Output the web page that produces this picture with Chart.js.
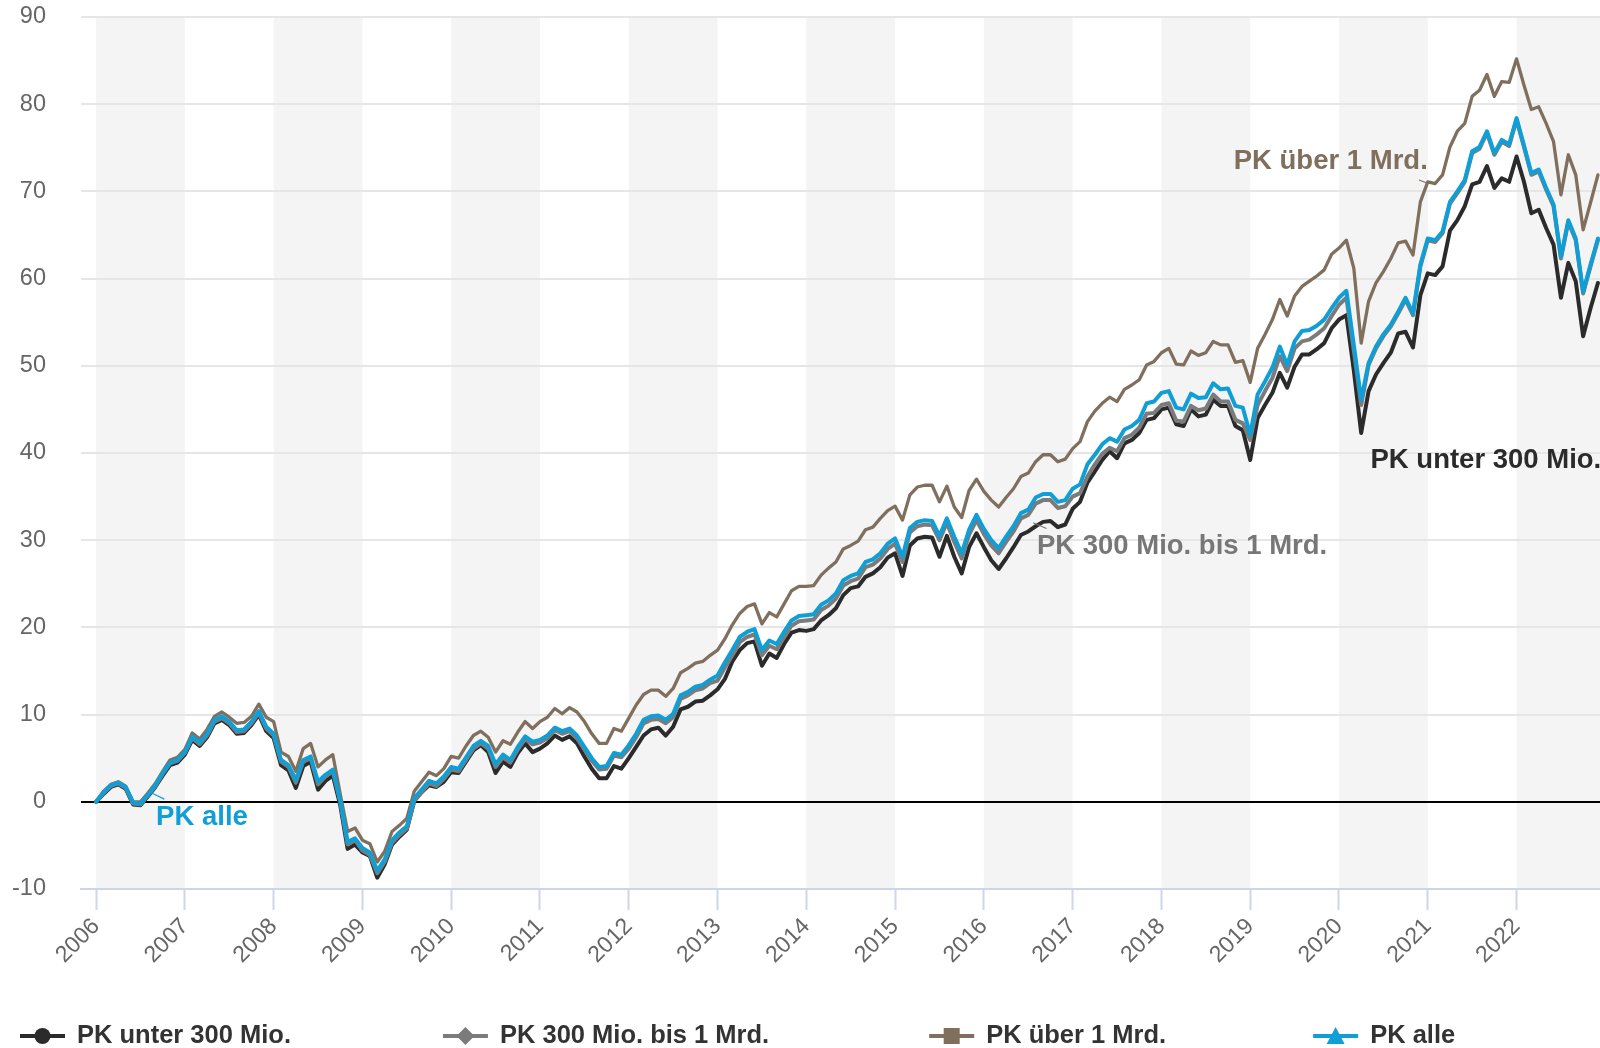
<!DOCTYPE html>
<html>
<head>
<meta charset="utf-8">
<script src="https://cdn.jsdelivr.net/npm/chart.js@4.4.1/dist/chart.umd.min.js"></script>
<style>
  html, body { margin: 0; padding: 0; background: #fff; }
  #wrap { width: 1600px; height: 1048px; position: relative; }
</style>
</head>
<body>
<div id="wrap"><canvas id="chart"></canvas></div>
<script>
// Kumulierte Performance in %, Monatswerte (Index 0 = Start 2006)
const startYear = 2006;

const unter300 = [
  0, 0.9, 1.7, 2.0, 1.5, -0.3, -0.4, 0.6, 1.7, 3.0, 4.2, 4.5,
  5.4, 7.1, 6.4, 7.4, 9.0, 9.4, 8.8, 7.8, 7.9, 8.8, 10.0, 8.1,
  7.3, 4.2, 3.6, 1.6, 4.1, 4.6, 1.4, 2.4, 3.0, -0.4, -5.4, -4.9,
  -5.8, -6.2, -8.7, -7.2, -4.9, -4.0, -3.2, 0.1, 1.1, 1.9, 1.7, 2.3,
  3.4, 3.3, 4.6, 5.9, 6.5, 5.7, 3.3, 4.6, 4.0, 5.6, 6.7, 5.7,
  6.1, 6.7, 7.6, 7.1, 7.5, 6.7, 5.2, 3.8, 2.7, 2.7, 4.1, 3.8,
  5.0, 6.3, 7.6, 8.3, 8.5, 7.6, 8.6, 10.6, 10.9, 11.5, 11.6, 12.2,
  12.9, 14.1, 16.1, 17.4, 18.2, 18.4, 15.6, 17.0, 16.5, 18.1, 19.4, 19.7,
  19.6, 19.8, 20.8, 21.4, 22.2, 23.7, 24.5, 24.7, 25.8, 26.2, 26.9, 28.0,
  28.5, 25.9, 29.4, 30.2, 30.4, 30.3, 28.1, 30.5, 28.1, 26.2, 29.2, 30.8,
  29.2, 27.7, 26.7, 27.9, 29.2, 30.6, 31.0, 31.6, 32.1, 32.2, 31.5, 31.8,
  33.6, 34.4, 36.6, 37.9, 39.2, 40.2, 39.4, 41.1, 41.5, 42.3, 43.8, 44.0,
  45.0, 45.2, 43.3, 43.1, 45.0, 44.2, 44.4, 46.1, 45.4, 45.4, 43.1, 42.6,
  39.2, 44.0, 45.5, 46.9, 49.2, 47.5, 49.9, 51.3, 51.3, 51.9, 52.6, 54.3,
  55.3, 55.8, 49.5, 42.3, 47.1, 49.0, 50.3, 51.5, 53.7, 53.9, 52.1, 58.1,
  60.6, 60.4, 61.4, 65.5, 66.7, 68.3, 70.8, 71.1, 72.9, 70.4, 71.5, 71.1,
  74.0, 71.1, 67.5, 67.9, 65.8, 63.9, 57.8, 61.8, 59.7, 53.4, 56.6, 59.5
];

const mio300bis1Mrd = [
  0, 1.0, 1.8, 2.1, 1.6, -0.2, -0.3, 0.7, 1.8, 3.2, 4.4, 4.7,
  5.6, 7.3, 6.6, 7.6, 9.2, 9.6, 9.0, 8.0, 8.1, 9.0, 10.2, 8.4,
  7.6, 4.6, 4.0, 2.2, 4.6, 5.0, 2.0, 2.9, 3.5, 0.0, -4.9, -4.4,
  -5.6, -6.1, -8.2, -6.9, -4.7, -3.8, -3.1, 0.1, 1.1, 2.1, 1.8, 2.6,
  3.7, 3.5, 4.8, 6.1, 6.7, 6.1, 4.0, 5.1, 4.5, 6.0, 7.2, 6.6,
  6.8, 7.3, 8.2, 7.8, 8.1, 7.3, 6.0, 4.7, 3.7, 3.8, 5.3, 5.1,
  6.1, 7.4, 9.0, 9.4, 9.5, 9.0, 9.7, 11.8, 12.2, 12.8, 13.0, 13.6,
  13.9, 15.4, 16.8, 18.3, 18.9, 19.2, 16.8, 17.9, 17.5, 18.9, 20.2, 20.7,
  20.8, 20.9, 22.0, 22.5, 23.3, 24.8, 25.3, 25.6, 26.9, 27.2, 27.9, 29.0,
  29.6, 27.5, 30.9, 31.6, 31.8, 31.7, 30.0, 32.0, 29.8, 27.9, 30.6, 32.3,
  30.7, 29.4, 28.5, 29.8, 31.0, 32.5, 32.9, 34.2, 34.6, 34.6, 33.7, 33.9,
  35.0, 35.4, 37.3, 38.7, 39.9, 40.6, 40.2, 41.7, 42.1, 42.9, 44.5, 44.6,
  45.5, 45.7, 43.7, 43.6, 45.4, 44.9, 45.1, 46.7, 45.9, 45.9, 43.8, 43.4,
  41.5, 45.5, 47.1, 48.6, 51.1, 49.4, 52.0, 52.8, 53.0, 53.6, 54.3, 55.7,
  57.0, 57.8, 51.8, 45.5, 50.1, 52.0, 53.4, 54.5, 56.0, 57.6, 55.8, 61.4,
  64.4, 64.2, 65.2, 68.6, 69.8, 71.1, 74.4, 74.9, 76.7, 74.2, 75.7, 75.2,
  78.2, 75.1, 71.9, 72.3, 70.2, 68.3, 62.3, 66.5, 64.4, 58.3, 61.4, 64.4
];

const ueber1Mrd = [
  0, 1.2, 2.0, 2.3, 1.8, 0.0, 0.0, 1.0, 2.1, 3.5, 4.8, 5.1,
  6.0, 7.9, 7.2, 8.3, 9.8, 10.3, 9.7, 9.0, 9.1, 9.8, 11.2, 9.7,
  9.2, 5.7, 5.2, 3.5, 6.1, 6.7, 4.0, 4.8, 5.4, 0.9, -3.4, -3.0,
  -4.4, -4.8, -6.9, -5.7, -3.4, -2.7, -1.9, 1.2, 2.3, 3.4, 3.0, 3.8,
  5.2, 5.0, 6.4, 7.6, 8.1, 7.4, 5.7, 7.0, 6.6, 8.0, 9.2, 8.4,
  9.2, 9.7, 10.7, 10.1, 10.8, 10.3, 9.2, 7.8, 6.7, 6.7, 8.4, 8.1,
  9.6, 11.1, 12.3, 12.8, 12.8, 12.1, 13.0, 14.8, 15.3, 15.9, 16.1, 16.8,
  17.4, 18.7, 20.3, 21.6, 22.4, 22.7, 20.4, 21.7, 21.2, 22.7, 24.2, 24.7,
  24.7, 24.8, 26.0, 26.8, 27.5, 29.0, 29.4, 29.9, 31.2, 31.5, 32.5, 33.4,
  33.9, 32.3, 35.2, 36.1, 36.3, 36.3, 34.4, 36.2, 33.8, 32.6, 35.7, 37.0,
  35.6, 34.6, 33.8, 34.9, 35.9, 37.3, 37.7, 39.0, 39.8, 39.8, 39.0, 39.3,
  40.5, 41.3, 43.6, 44.8, 45.7, 46.4, 45.9, 47.3, 47.8, 48.4, 50.1, 50.5,
  51.5, 52.0, 50.2, 50.1, 51.7, 51.2, 51.5, 52.8, 52.4, 52.4, 50.4, 50.6,
  48.1, 52.0, 53.6, 55.3, 57.6, 55.7, 58.0, 59.1, 59.7, 60.3, 61.0, 62.8,
  63.5, 64.4, 61.2, 52.6, 57.4, 59.5, 60.8, 62.3, 64.1, 64.3, 62.7, 68.8,
  71.1, 70.9, 71.9, 75.1, 76.9, 77.8, 80.9, 81.6, 83.4, 80.9, 82.6, 82.5,
  85.2, 82.2, 79.4, 79.7, 77.8, 75.7, 69.6, 74.2, 71.9, 65.6, 68.7, 71.9
];

const alle = [
  0, 1.1, 1.9, 2.2, 1.7, -0.1, -0.2, 0.8, 1.9, 3.3, 4.5, 4.8,
  5.7, 7.5, 6.8, 7.8, 9.4, 9.8, 9.2, 8.2, 8.3, 9.2, 10.4, 8.6,
  7.8, 4.8, 4.2, 2.5, 4.8, 5.2, 2.3, 3.1, 3.7, 0.2, -4.6, -4.2,
  -5.3, -5.8, -7.9, -6.6, -4.4, -3.5, -2.8, 0.4, 1.4, 2.4, 2.1, 2.9,
  4.0, 3.8, 5.1, 6.4, 7.0, 6.4, 4.3, 5.4, 4.8, 6.3, 7.5, 6.9,
  7.1, 7.6, 8.5, 8.1, 8.4, 7.6, 6.3, 5.0, 4.0, 4.1, 5.6, 5.4,
  6.5, 7.8, 9.4, 9.8, 9.9, 9.4, 10.1, 12.2, 12.6, 13.2, 13.4, 14.0,
  14.5, 16.0, 17.4, 18.9, 19.5, 19.8, 17.4, 18.5, 18.1, 19.5, 20.8, 21.3,
  21.4, 21.5, 22.6, 23.1, 23.9, 25.4, 25.9, 26.2, 27.5, 27.8, 28.5, 29.6,
  30.2, 28.1, 31.4, 32.1, 32.3, 32.2, 30.5, 32.5, 30.4, 28.5, 31.2, 32.9,
  31.3, 30.0, 29.1, 30.4, 31.6, 33.1, 33.5, 34.9, 35.3, 35.3, 34.4, 34.6,
  35.9, 36.4, 38.7, 39.8, 41.0, 41.7, 41.3, 42.7, 43.1, 43.8, 45.7, 45.9,
  46.9, 47.1, 45.2, 45.0, 46.8, 46.3, 46.4, 48.0, 47.3, 47.4, 45.4, 45.2,
  42.1, 46.7, 48.2, 49.8, 52.2, 50.1, 52.8, 54.0, 54.1, 54.6, 55.3, 56.6,
  57.8, 58.6, 52.4, 46.1, 50.3, 52.2, 53.6, 54.7, 56.2, 57.8, 56.0, 61.6,
  64.6, 64.4, 65.4, 68.8, 70.0, 71.3, 74.6, 75.1, 76.9, 74.4, 75.9, 75.4,
  78.4, 75.3, 72.1, 72.5, 70.4, 68.5, 62.5, 66.7, 64.6, 58.5, 61.6, 64.6
];

// Monatsachse (Dezimaljahre)
const months = alle.map((_, i) => startYear + i / 12);

// Beschriftungen direkt an den Linien
const notes = [
  { text: 'PK alle', color: '#0f9fd6', x: 2006.676, y: -1.75, align: 'left', line: [2006.638, 0.96, 2006.769, 0.31] },
  { text: 'PK über 1 Mrd.', color: '#7f6f5c', x: 2021.0, y: 73.4, align: 'right', line: [2020.902, 71.3, 2021.003, 70.9] },
  { text: 'PK 300 Mio. bis 1 Mrd.', color: '#777777', x: 2016.597, y: 29.24, align: 'left', line: [2016.555, 32.0, 2016.706, 31.35] },
  { text: 'PK unter 300 Mio.', color: '#2b2b2b', x: 2020.355, y: 39.19, align: 'left', line: null }
];

const FONT = '"Liberation Sans", Arial, sans-serif';

// Graue Bänder für gerade Jahre
const bandPlugin = {
  id: 'yearBands',
  beforeDraw(chart) {
    const { ctx, chartArea: a, scales: { x } } = chart;
    ctx.save();
    ctx.fillStyle = '#f4f4f4';
    x.ticks.forEach(t => {
      if (t.value % 2 !== 0) return;
      const x0 = Math.max(a.left, x.getPixelForValue(t.value));
      const x1 = Math.min(a.right, x.getPixelForValue(t.value + 1));
      if (x1 > x0) ctx.fillRect(x0, a.top, x1 - x0, a.bottom - a.top);
    });
    ctx.restore();
  }
};

const notePlugin = {
  id: 'notes',
  afterDatasetsDraw(chart) {
    const { ctx, scales: { x, y } } = chart;
    ctx.save();
    ctx.font = 'bold 27.5px ' + FONT;
    ctx.textBaseline = 'middle';
    notes.forEach(n => {
      if (n.line) {
        ctx.strokeStyle = n.color;
        ctx.lineWidth = 1.2;
        ctx.beginPath();
        ctx.moveTo(x.getPixelForValue(n.line[0]), y.getPixelForValue(n.line[1]));
        ctx.lineTo(x.getPixelForValue(n.line[2]), y.getPixelForValue(n.line[3]));
        ctx.stroke();
      }
      ctx.fillStyle = n.color;
      ctx.textAlign = n.align;
      ctx.fillText(n.text, x.getPixelForValue(n.x), y.getPixelForValue(n.y));
    });
    ctx.restore();
  }
};

function drawMarker(ctx, type, cx, cy, color) {
  ctx.fillStyle = color;
  ctx.beginPath();
  if (type === 'circle') {
    ctx.arc(cx, cy, 8, 0, Math.PI * 2);
  } else if (type === 'diamond') {
    ctx.moveTo(cx, cy - 9); ctx.lineTo(cx + 9, cy); ctx.lineTo(cx, cy + 9); ctx.lineTo(cx - 9, cy);
  } else if (type === 'square') {
    ctx.rect(cx - 8, cy - 8, 16, 16);
  } else {
    ctx.moveTo(cx, cy - 9); ctx.lineTo(cx + 9, cy + 8); ctx.lineTo(cx - 9, cy + 8);
  }
  ctx.closePath();
  ctx.fill();
}

const legendGaps = [152, 160, 147];

const legendPlugin = {
  id: 'bottomLegend',
  afterDraw(chart) {
    const ctx = chart.ctx;
    const y = chart.height - 12;
    let x = 20;
    ctx.save();
    ctx.font = 'bold 25.5px ' + FONT;
    ctx.textBaseline = 'middle';
    ctx.textAlign = 'left';
    chart.data.datasets.forEach((ds, i) => {
      ctx.strokeStyle = ds.borderColor;
      ctx.lineWidth = 4;
      ctx.beginPath();
      ctx.moveTo(x, y);
      ctx.lineTo(x + 45, y);
      ctx.stroke();
      drawMarker(ctx, ds.marker, x + 22.5, y, ds.borderColor);
      ctx.fillStyle = '#333333';
      ctx.fillText(ds.label, x + 57, y);
      x += 57 + ctx.measureText(ds.label).width + (legendGaps[i] || 152);
    });
    ctx.restore();
  }
};

function series(values) {
  return values.map((v, i) => ({ x: months[i], y: v }));
}

Chart.defaults.font.family = FONT;

new Chart(document.getElementById('chart'), {
  type: 'line',
  data: {
    datasets: [
      { label: 'PK unter 300 Mio.', data: series(unter300), borderColor: '#2b2b2b', borderWidth: 4, marker: 'circle', order: 3 },
      { label: 'PK 300 Mio. bis 1 Mrd.', data: series(mio300bis1Mrd), borderColor: '#7b7b7b', borderWidth: 4, marker: 'diamond', order: 2 },
      { label: 'PK über 1 Mrd.', data: series(ueber1Mrd), borderColor: '#7f6f5c', borderWidth: 3.3, marker: 'square', order: 1 },
      { label: 'PK alle', data: series(alle), borderColor: '#0f9fd6', borderWidth: 4, marker: 'triangle', order: 0 }
    ]
  },
  options: {
    responsive: true,
    maintainAspectRatio: false,
    animation: false,
    layout: { padding: { top: 17, left: 0, right: 0, bottom: 0 } },
    elements: {
      point: { radius: 0, hoverRadius: 0 },
      line: { tension: 0, borderJoinStyle: 'round', borderCapStyle: 'round', fill: false }
    },
    plugins: {
      legend: { display: false },
      tooltip: { enabled: false }
    },
    scales: {
      x: {
        type: 'linear',
        min: 2005.83,
        max: 2022.94,
        ticks: {
          stepSize: 1,
          includeBounds: false,
          autoSkip: false,
          maxRotation: 45,
          minRotation: 45,
          color: '#666666',
          font: { size: 23 },
          padding: 3,
          callback: v => String(v)
        },
        grid: { drawOnChartArea: false, drawTicks: true, tickLength: 21, tickColor: '#ccd6eb', tickWidth: 2 },
        border: { color: '#ccd6eb', width: 2 },
        afterFit: s => { s.height = 159; }
      },
      y: {
        min: -10,
        max: 90,
        ticks: { stepSize: 10, color: '#666666', font: { size: 23.5 }, padding: 35 },
        grid: {
          drawTicks: false,
          lineWidth: 2,
          color: c => (c.tick && c.tick.value === 0 ? '#000000' : '#e6e6e6')
        },
        border: { display: false },
        afterFit: s => { s.width = 81; s.paddingTop = 0; s.paddingBottom = 0; }
      }
    }
  },
  plugins: [bandPlugin, notePlugin, legendPlugin]
});
</script>
</body>
</html>
